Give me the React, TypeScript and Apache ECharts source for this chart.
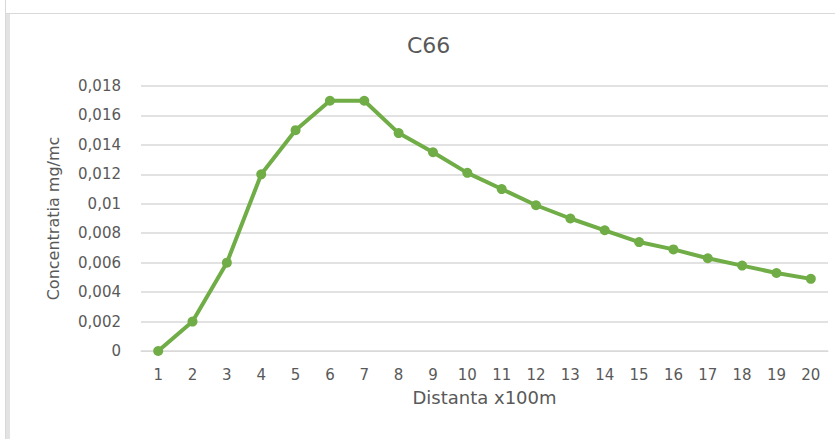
import React, { useEffect, useRef } from "react";
import * as echarts from "echarts";

const categories: string[] = ["1","2","3","4","5","6","7","8","9","10","11","12","13","14","15","16","17","18","19","20"];
const concentration: number[] = [0, 0.002, 0.006, 0.012, 0.015, 0.017, 0.017, 0.0148, 0.0135, 0.0121, 0.011, 0.0099, 0.009, 0.0082, 0.0074, 0.0069, 0.0063, 0.0058, 0.0053, 0.0049];
const titleText = "C66";
const xName = "Distanta x100m";
const yName = "Concentratia mg/mc";

const FONT = "DejaVu Sans";

export default function App() {
  const ref = useRef<HTMLDivElement>(null);
  useEffect(() => {
    if (!ref.current) return;
    const chart = echarts.init(ref.current, undefined, { renderer: "svg" });
    chart.setOption({
      animation: false,
      backgroundColor: "#ffffff",
      title: {
        text: titleText,
        left: 407,
        top: 34,
        padding: 0,
        textStyle: { fontFamily: FONT, fontSize: 22, fontWeight: "normal", color: "#595959" },
      },
      graphic: [
        { type: "line", shape: { x1: 5.5, y1: 0, x2: 5.5, y2: 439 }, style: { stroke: "#d9d9d9", lineWidth: 1 }, silent: true },
        { type: "rect", shape: { x: 6, y: 13, width: 4, height: 426 }, style: { fill: "#e3e3e3" }, silent: true },
        { type: "line", shape: { x1: 6, y1: 13.5, x2: 835, y2: 13.5 }, style: { stroke: "#d9d9d9", lineWidth: 1 }, silent: true },
      ],
      grid: { left: 141, right: 7, top: 86, bottom: 88, containLabel: false },
      xAxis: {
        type: "category",
        data: categories,
        boundaryGap: true,
        name: xName,
        nameLocation: "middle",
        nameGap: 37,
        nameTextStyle: { fontFamily: FONT, fontSize: 18, color: "#595959" },
        axisTick: { show: false },
        axisLine: { lineStyle: { color: "#d9d9d9", width: 1 } },
        axisLabel: { fontFamily: FONT, fontSize: 15, color: "#595959", margin: 16 },
        splitLine: { show: false },
      },
      yAxis: {
        type: "value",
        min: 0,
        max: 0.018,
        interval: 0.002,
        name: yName,
        nameLocation: "middle",
        nameGap: 80,
        nameTextStyle: { fontFamily: FONT, fontSize: 16, color: "#595959" },
        axisLine: { show: false },
        axisTick: { show: false },
        axisLabel: {
          fontFamily: FONT,
          fontSize: 15,
          color: "#595959",
          margin: 20,
          formatter: (v: number) => String(parseFloat(v.toFixed(4))).replace(".", ","),
        },
        splitLine: { lineStyle: { color: "#d9d9d9", width: 1.5 } },
      },
      series: [
        {
          type: "line",
          data: concentration,
          symbol: "circle",
          symbolSize: 10,
          lineStyle: { color: "#70AD47", width: 4 },
          itemStyle: { color: "#70AD47" },
        },
      ],
    });
    return () => chart.dispose();
  }, []);
  return <div ref={ref} style={{ position: "fixed", left: 0, top: 0, width: 835, height: 439 }} />;
}
